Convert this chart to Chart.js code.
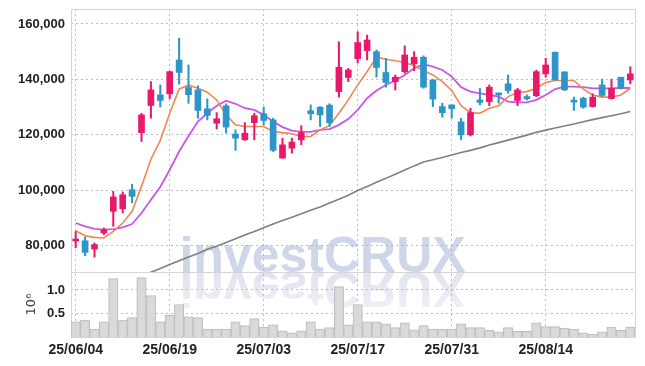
<!DOCTYPE html>
<html>
<head>
<meta charset="utf-8">
<script src="https://cdn.jsdelivr.net/npm/chart.js@4.4.0/dist/chart.umd.min.js"></script>
<style>
html,body{margin:0;padding:0;background:#fff;}
</style>
</head>
<body>
<canvas id="chart" width="645" height="366"></canvas>
<script>
// trading days
const dates = ['25/06/04','25/06/05','25/06/09','25/06/10','25/06/11','25/06/12','25/06/13','25/06/16','25/06/17','25/06/18',
'25/06/19','25/06/20','25/06/23','25/06/24','25/06/25','25/06/26','25/06/27','25/06/30','25/07/01','25/07/02',
'25/07/03','25/07/04','25/07/07','25/07/08','25/07/09','25/07/10','25/07/11','25/07/14','25/07/15','25/07/16',
'25/07/17','25/07/18','25/07/21','25/07/22','25/07/23','25/07/24','25/07/25','25/07/28','25/07/29','25/07/30',
'25/07/31','25/08/01','25/08/04','25/08/05','25/08/06','25/08/07','25/08/08','25/08/11','25/08/12','25/08/13',
'25/08/14','25/08/18','25/08/19','25/08/20','25/08/21','25/08/22','25/08/25','25/08/26','25/08/27','25/08/28'];

const open = [81700,81800,78800,84600,92400,93300,100200,120800,130600,134400,
134800,147000,137100,136200,129400,124200,130500,120300,118200,124400,
127600,125400,111600,115200,118200,128700,130000,130700,135600,140700,
147500,150400,150000,142500,139200,142800,145600,148000,139800,130200,
130800,124700,120000,132600,132000,135000,138400,132400,133800,134100,
142000,149800,142700,132000,133200,130200,138000,133100,140800,139800];
const high = [85100,83100,81000,86400,99600,99400,102200,127800,139200,138000,
143000,154900,145200,137700,133000,128000,131200,121800,124400,127800,
130000,126000,118800,118800,123300,130800,130200,131200,153600,144000,
157200,156000,150600,147600,141600,152100,150000,148500,140000,131400,
130800,126000,129600,136800,138000,135100,141600,136800,134400,143400,
147600,149900,142800,133600,133600,134800,140100,140100,140800,144600];
const low = [79300,76400,75900,84000,87000,91800,95500,117600,126000,130000,
133100,138300,131400,126000,125400,122100,120600,114400,118000,118200,
123600,114000,111600,113400,116400,125400,123000,123000,133600,139200,
145900,147000,140800,137200,136200,142200,143100,136800,130200,126400,
126000,118200,119600,130800,130500,131400,135000,130500,132600,133800,
140800,139700,136000,128800,129600,130000,133800,132900,136500,138400];
const close = [82200,77600,80400,85800,97600,98400,97800,127200,136200,132400,
142800,142500,134500,128800,127000,125800,122800,118800,120600,126900,
125200,114400,116400,117400,120800,127600,127200,124400,144400,143400,
153300,154200,144300,138900,140800,148800,148000,137200,132900,128000,
129400,120000,128000,131700,137200,134400,136000,136200,133000,142800,
145200,139800,136200,131800,130000,133600,134200,136800,136800,142000];

// moving averages
const ma5 = [85400,83600,83000,82800,85200,88200,92400,101400,111200,118000,
127800,136500,137900,136800,135400,132600,127200,123600,123000,123000,
123000,121200,120800,120400,119400,119400,121800,123300,127800,132600,
138000,142800,148000,147300,146700,146100,144900,143200,141600,139200,
136000,130500,128000,127800,129600,130500,133800,135300,135600,136800,
138900,139600,139600,139600,136500,134400,133600,133600,134400,136800];
const ma20 = [88200,87000,86100,85800,86000,86600,87800,91800,96600,101200,
107400,114000,119600,124800,127800,130500,132300,131200,129600,129000,
127200,124800,122800,121500,121100,121100,121800,122100,123600,125700,
129000,133200,136000,138000,139600,141600,144000,145500,144600,143400,
141000,137200,135600,135000,134400,133800,132000,131700,131700,132600,
134400,136500,137400,137400,137200,136800,136800,136800,136900,136900];
const ma120 = [null,null,null,null,null,null,null,69000,70400,71800,
73200,74600,75900,77200,78700,79800,81200,82500,83900,85100,
86500,87800,89100,90300,91500,92800,94000,95400,96800,98200,
99900,101400,102900,104300,105800,107300,108800,110200,111000,111800,
112700,113600,114400,115300,116300,117200,118100,119000,119900,120900,
121700,122500,123200,123900,124700,125500,126200,126900,127600,128400];

// volume in millions
const volume = [0.32,0.36,0.17,0.32,1.24,0.36,0.41,1.26,0.88,0.32,
0.46,0.69,0.43,0.41,0.17,0.17,0.17,0.32,0.24,0.39,
0.21,0.26,0.13,0.09,0.13,0.32,0.17,0.20,1.07,0.26,
0.69,0.32,0.32,0.28,0.20,0.30,0.15,0.24,0.17,0.17,
0.17,0.28,0.20,0.20,0.14,0.11,0.20,0.12,0.12,0.30,
0.22,0.22,0.19,0.17,0.09,0.06,0.11,0.21,0.14,0.21];

const priceTicks = [80000, 100000, 120000, 140000, 160000];
const volumeTicks = [0.5, 1.0];

const UP = '#e8196a';
const DOWN = '#2e95c8';
const GRID = 'rgba(165,165,205,0.75)';
const FRAME = '#d4d4dc';
const FAMILY = '"Liberation Sans", Arial, sans-serif';

const colors = dates.map((d, i) => close[i] >= open[i] ? UP : DOWN);

const watermark = {
  id: 'watermark',
  beforeDraw(chart) {
    const ctx = chart.ctx;
    const base = chart.scales.y.bottom;
    const cx = chart.width / 2;
    ctx.save();
    ctx.font = 'bold 50px "Liberation Sans", Arial, sans-serif';
    ctx.textAlign = 'center';
    ctx.textBaseline = 'alphabetic';
    ctx.fillStyle = 'rgb(208,214,234)';
    ctx.fillText('investCRUX', cx, base);
    // mirrored copy
    ctx.translate(0, base * 2);
    ctx.scale(1, -1);
    const g = ctx.createLinearGradient(0, base, 0, base - 45);
    g.addColorStop(0, 'rgba(222,225,238,0.95)');
    g.addColorStop(1, 'rgba(222,225,238,0.4)');
    ctx.fillStyle = g;
    ctx.fillText('investCRUX', cx, base);
    ctx.restore();
  }
};

const frame = {
  id: 'frame',
  beforeDatasetsDraw(chart) {
    const {ctx, chartArea: a} = chart;
    ctx.save();
    ctx.strokeStyle = FRAME;
    ctx.lineWidth = 1;
    ctx.strokeRect(Math.round(a.left) + 0.5, Math.round(a.top) + 0.5, Math.round(a.right - a.left), Math.round(a.bottom - a.top));
    const ys = Math.round(chart.scales.y.bottom) + 0.5;
    ctx.beginPath();
    ctx.moveTo(a.left, ys);
    ctx.lineTo(a.right, ys);
    ctx.stroke();
    ctx.restore();
  }
};

const fitLeft = s => { s.width = 71; s.paddingTop = 0; s.paddingBottom = 0; };

new Chart(document.getElementById('chart'), {
  type: 'bar',
  data: {
    labels: dates,
    datasets: [
      {type: 'bar', label: 'body', data: dates.map((d, i) => [open[i], close[i]]), backgroundColor: colors,
        barThickness: 6, minBarLength: 2, grouped: false, yAxisID: 'y', order: 1},
      {type: 'bar', label: 'wick', data: dates.map((d, i) => [low[i], high[i]]), backgroundColor: colors,
        barThickness: 1.4, grouped: false, yAxisID: 'y', order: 2},
      {type: 'line', label: 'MA5', data: ma5, borderColor: '#ee8752', borderWidth: 1.6, pointRadius: 0, tension: 0, yAxisID: 'y', order: 3},
      {type: 'line', label: 'MA20', data: ma20, borderColor: '#c957e6', borderWidth: 1.8, pointRadius: 0, tension: 0, yAxisID: 'y', order: 3},
      {type: 'line', label: 'MA120', data: ma120, borderColor: '#808080', borderWidth: 1.6, pointRadius: 0, tension: 0, yAxisID: 'y', order: 4},
      {type: 'bar', label: 'Volume', data: volume, backgroundColor: 'rgba(214,214,214,0.9)', borderColor: '#bdbdbd', borderWidth: 1,
        barPercentage: 1, categoryPercentage: 1, grouped: false, yAxisID: 'y2', order: 5}
    ]
  },
  options: {
    responsive: false,
    animation: false,
    layout: {padding: {top: 9, right: 10, left: 0, bottom: 0}},
    plugins: {legend: {display: false}, tooltip: {enabled: false}},
    scales: {
      x: {
        offset: true,
        grid: {offset: false, color: GRID, drawTicks: false},
        border: {display: false, dash: [2, 3]},
        afterBuildTicks: s => { s.ticks = s.ticks.filter(t => t.value % 10 === 0); },
        afterFit: s => { s.height = 29; s.paddingLeft = 0; s.paddingRight = 0; },
        ticks: {autoSkip: false, maxRotation: 0, padding: 5, color: '#222', font: {family: FAMILY, size: 14, weight: 'bold'}}
      },
      y: {
        position: 'left', stack: 'v', stackWeight: 4.05, weight: 1,
        min: 70500, max: 165400,
        grid: {color: GRID, drawTicks: false},
        border: {display: false, dash: [2, 3]},
        afterBuildTicks: s => { s.ticks = priceTicks.map(v => ({value: v})); },
        afterFit: fitLeft,
        ticks: {padding: 6, color: '#222', font: {family: FAMILY, size: 13, weight: 'bold'},
          callback: v => v.toLocaleString('en-US')}
      },
      y2: {
        position: 'left', stack: 'v', stackWeight: 1, weight: 0,
        min: 0, max: 1.38,
        grid: {color: GRID, drawTicks: false},
        border: {display: false, dash: [2, 3]},
        afterBuildTicks: s => { s.ticks = volumeTicks.map(v => ({value: v})); },
        afterFit: fitLeft,
        title: {display: true, text: '10⁶', color: '#444', font: {family: 'DejaVu Sans', size: 13}, padding: {top: 24}},
        ticks: {padding: 6, color: '#222', font: {family: FAMILY, size: 13, weight: 'bold'}, callback: v => v.toFixed(1)}
      }
    }
  },
  plugins: [watermark, frame]
});
</script>
</body>
</html>
